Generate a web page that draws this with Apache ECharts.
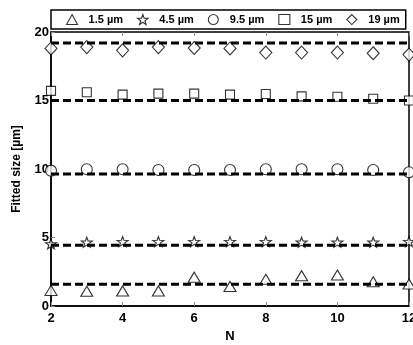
<!DOCTYPE html>
<html>
<head>
<meta charset="utf-8">
<script src="https://cdn.jsdelivr.net/npm/echarts@6/dist/echarts.min.js"></script>
<style>
  html, body { margin: 0; padding: 0; background: #fff; }
  #chart { width: 413px; height: 345px; }
</style>
</head>
<body>
<div id="chart"></div>
<script>
// Tamaños ajustados vs N
const nValues = [2, 3, 4, 5, 6, 7, 8, 9, 10, 11, 12];
const seriesNames = ["1.5 µm", "4.5 µm", "9.5 µm", "15 µm", "19 µm"];
const size15 = [1.14, 1.07, 1.1, 1.1, 2.1, 1.43, 1.95, 2.21, 2.26, 1.77, 1.6];
const size45 = [4.53, 4.65, 4.7, 4.7, 4.7, 4.7, 4.7, 4.65, 4.65, 4.65, 4.7];
const size95 = [9.88, 9.98, 9.98, 9.93, 9.93, 9.93, 9.98, 9.98, 9.98, 9.93, 9.76];
const size150 = [15.7, 15.6, 15.43, 15.5, 15.5, 15.43, 15.47, 15.3, 15.27, 15.13, 15.0];
const size190 = [18.8, 18.9, 18.66, 18.9, 18.83, 18.8, 18.5, 18.5, 18.5, 18.45, 18.35];
// Valores de referencia (líneas discontinuas)
const refValues = [1.58, 4.43, 9.63, 15.0, 19.2];

const STAR = "path://M0,-1L0.235,-0.324L0.951,-0.309L0.380,0.124L0.588,0.809L0,0.4L-0.588,0.809L-0.380,0.124L-0.951,-0.309L-0.235,-0.324Z";
const DIAMOND = "path://M0,-1L1,0L0,1L-1,0Z";

const symbols = ["triangle", STAR, "circle", "rect", DIAMOND];
const symbolSizes = [[12, 10], [11, 10], [11, 11], [9, 9], [12, 13]];
const allData = [size15, size45, size95, size150, size190];

const markerStyle = { color: "#fff", borderColor: "#000", borderWidth: 1.1 };
const fontFam = "Liberation Sans, Arial, sans-serif";

const chart = echarts.init(document.getElementById("chart"));

const scatterSeries = seriesNames.map((name, i) => ({
  name: name,
  type: "scatter",
  symbol: symbols[i],
  symbolSize: symbolSizes[i],
  itemStyle: markerStyle,
  clip: false,
  z: 2,
  data: nValues.map((n, j) => [n, allData[i][j]]),
}));

const lineSeries = refValues.map((v) => ({
  type: "line",
  symbol: "none",
  silent: true,
  z: 3,
  lineStyle: { color: "#000", width: 3, type: [8, 4] },
  data: [[nValues[0], v], [nValues[nValues.length - 1], v]],
}));

const option = {
  animation: false,
  grid: {
    left: 51, right: 4, top: 32, bottom: 39,
    outerBoundsMode: "none",
    show: true, borderColor: "#000", borderWidth: 1.5,
  },
  legend: {
    data: seriesNames.map((n, i) => ({ name: n, icon: symbols[i] })),
    left: 51,
    top: 10,
    itemWidth: 11,
    itemHeight: 10,
    itemGap: 14,
    padding: [4, 6, 4, 15],
    borderColor: "#000",
    borderWidth: 1.5,
    borderRadius: 0,
    itemStyle: markerStyle,
    textStyle: { fontFamily: fontFam, fontWeight: "bold", fontSize: 11, color: "#000", padding: [0, 0, 0, 6] },
  },
  xAxis: [
    {
      type: "value",
      min: 2,
      max: 12,
      interval: 2,
      name: "N",
      nameLocation: "middle",
      nameGap: 19,
      nameTextStyle: { fontFamily: fontFam, fontWeight: "bold", fontSize: 13, color: "#000" },
      axisLine: { lineStyle: { color: "#000", width: 1.5 } },
      axisTick: { inside: true, length: 4, lineStyle: { color: "#888" } },
      axisLabel: { fontFamily: fontFam, fontWeight: "bold", fontSize: 13, color: "#000", margin: 6 },
      splitLine: { show: false },
    },
    {
      type: "value",
      position: "top",
      min: 2,
      max: 12,
      interval: 2,
      axisLine: { show: false },
      axisTick: { inside: true, length: 4, lineStyle: { color: "#888" } },
      axisLabel: { show: false },
      splitLine: { show: false },
    },
  ],
  yAxis: {
    type: "value",
    min: 0,
    max: 20,
    interval: 5,
    name: "Fitted size [µm]",
    nameLocation: "middle",
    nameGap: 28,
    nameTextStyle: { fontFamily: fontFam, fontWeight: "bold", fontSize: 12, color: "#000" },
    axisLine: { show: true, lineStyle: { color: "#000", width: 1.5 } },
    axisTick: { show: true, inside: true, length: 4, lineStyle: { color: "#888" } },
    axisLabel: { fontFamily: fontFam, fontWeight: "bold", fontSize: 13, color: "#000", margin: 2 },
    splitLine: { show: false },
  },
  series: scatterSeries.concat(lineSeries),
};

chart.setOption(option);
</script>
</body>
</html>
